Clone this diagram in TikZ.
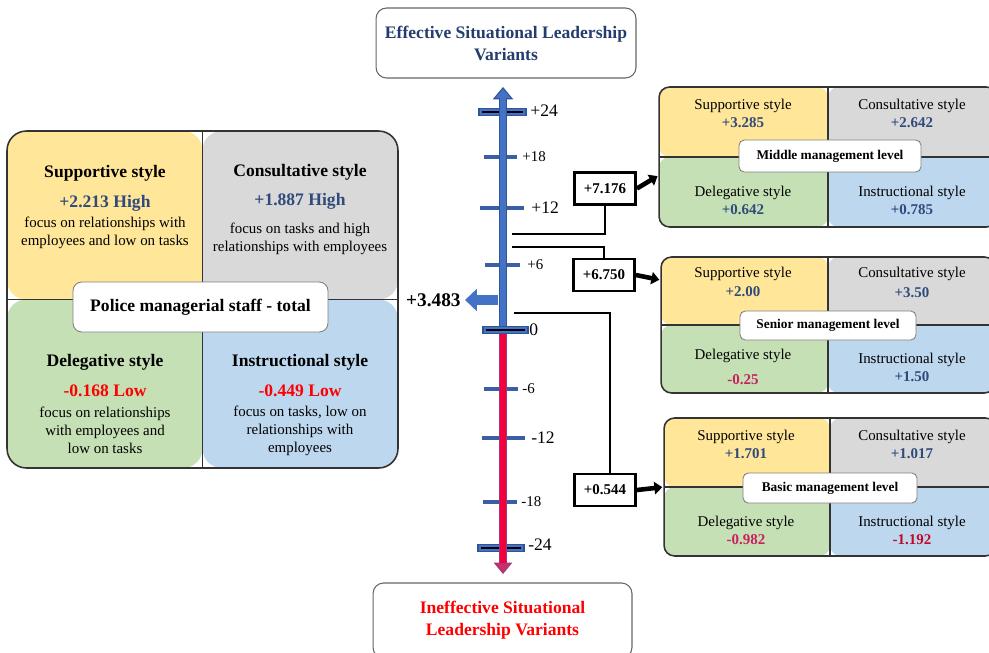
\documentclass[tikz,border=0pt]{standalone}
\usepackage{fontspec}
\setmainfont{Liberation Serif}
\usetikzlibrary{arrows.meta, positioning, calc}

\definecolor{supfill}{HTML}{FFE699}
\definecolor{confill}{HTML}{D9D9D9}
\definecolor{delfill}{HTML}{C5E0B4}
\definecolor{insfill}{HTML}{BDD7EE}
\definecolor{valblue}{HTML}{2F4B7C}
\definecolor{titleblue}{HTML}{243D6E}
\definecolor{valred}{HTML}{FF0000}
\definecolor{valpink}{HTML}{C8205E}
\definecolor{valcrimson}{HTML}{C00A2A}
\definecolor{axisblue}{HTML}{4472C4}
\definecolor{axisdark}{HTML}{2F5597}
\definecolor{tickblue}{HTML}{3B5EA6}
\definecolor{redaxis}{HTML}{F0003C}
\definecolor{redrim}{HTML}{A2357C}
\definecolor{redhead}{HTML}{C8306C}

\begin{document}
\begin{tikzpicture}[x=0.02cm, y=-0.02cm,
  quad panel/.style={rectangle, rounded corners=6pt, draw=black!80, line width=0.9pt,
    inner sep=0pt, outer sep=0pt,
    path picture={
      \fill[supfill] (path picture bounding box.north west) rectangle (path picture bounding box.center);
      \fill[confill] (path picture bounding box.north east) rectangle (path picture bounding box.center);
      \fill[delfill] (path picture bounding box.south west) rectangle (path picture bounding box.center);
      \fill[insfill] (path picture bounding box.south east) rectangle (path picture bounding box.center);
      \draw[black!80, line width=0.6pt] (path picture bounding box.north) -- (path picture bounding box.south)
        (path picture bounding box.west) -- (path picture bounding box.east);
    }},
  level box/.style={rectangle, rounded corners=3pt, draw=black!50, line width=0.5pt, fill=white,
    inner sep=0pt, font=\fontsize{7.6}{9}\selectfont\bfseries},
  title box/.style={rectangle, rounded corners=6pt, draw=black!60, line width=0.6pt, fill=white,
    align=center, inner sep=0pt, font=\fontsize{10}{12.5}\selectfont\bfseries},
  val box/.style={rectangle, draw=black, line width=1.6pt, fill=white, minimum width=1.22cm,
    minimum height=0.64cm, inner sep=0pt, font=\fontsize{8.5}{10}\selectfont\bfseries},
  head text/.style={inner sep=0pt, font=\fontsize{10}{12}\selectfont\bfseries},
  desc text/.style={align=center, inner sep=0pt, font=\fontsize{8.5}{10.2}\selectfont},
  cell text/.style={align=center, inner sep=0pt, font=\fontsize{8.5}{10.2}\selectfont},
  tick label/.style={anchor=west, inner sep=0pt, font=\fontsize{10}{12}\selectfont},
  small label/.style={tick label, font=\fontsize{8.5}{10}\selectfont},
  tick/.style={draw=tickblue, line width=2.6pt},
  big tick/.style={fill=axisblue, draw=axisdark, line width=0.6pt},
  link/.style={draw=black, line width=1.6pt},
  pointer/.style={draw=black, line width=2.6pt, shorten >=1pt, -{Triangle[width=7pt,length=4.5pt]}},
  big arrow/.style={draw=axisblue, line width=5.6pt, shorten >=2.3pt, -{Triangle[width=12.5pt,length=6.8pt]}}]

  \useasboundingbox (0,0) rectangle (989,652);
  \fill[white] (0,0) rectangle (989,652);
  \clip (0,0) rectangle (989,652);

  % titles of the scale
  \node[title box, text=titleblue, minimum width=5.2cm, minimum height=1.4cm] (effTitle) at (506,43)
    {Effective Situational Leadership\\Variants};
  \node[title box, text=valred, minimum width=5.18cm, minimum height=1.5cm] (ineffTitle) at (502.5,620.5)
    {Ineffective Situational\\Leadership Variants};

  % total panel
  \node[quad panel, rounded corners=11pt, minimum width=7.82cm, minimum height=6.74cm] (total) at (202.5,299.5) {};
  \node[level box, rounded corners=5pt, minimum width=5.1cm, minimum height=1cm,
    font=\fontsize{10}{12}\selectfont\bfseries] (totalLab) at (200.5,307) {Police managerial staff - total};
  \node[head text] (supHead) at (105,173) {Supportive style};
  \node[head text, text=valblue] (supVal) at (105,203) {+2.213 High};
  \node[desc text] (supDesc) at (105,233) {focus on relationships with\\employees and low on tasks};
  \node[head text] (conHead) at (300,172) {Consultative style};
  \node[head text, text=valblue] (conVal) at (300,201) {+1.887 High};
  \node[desc text] (conDesc) at (300,239) {focus on tasks and high\\relationships with employees};
  \node[head text] (delHead) at (105,362) {Delegative style};
  \node[head text, text=valred] (delVal) at (105,391) {-0.168 Low};
  \node[desc text] (delDesc) at (105,430.5) {focus on relationships\\with employees and\\low on tasks};
  \node[head text] (insHead) at (300,362) {Instructional style};
  \node[head text, text=valred] (insVal) at (300,391) {-0.449 Low};
  \node[desc text] (insDesc) at (300,430.5) {focus on tasks, low on\\relationships with\\employees};

  % middle management
  \node[quad panel, minimum width=6.76cm, minimum height=2.8cm] (middle) at (828,157) {};
  \node[cell text] (midSup) at (743,113) {Supportive style\\\textcolor{valblue}{\textbf{+3.285}}};
  \node[cell text] (midCon) at (912,113) {Consultative style\\\textcolor{valblue}{\textbf{+2.642}}};
  \node[cell text] (midDel) at (743,200) {Delegative style\\\textcolor{valblue}{\textbf{+0.642}}};
  \node[cell text] (midIns) at (912,200) {Instructional style\\\textcolor{valblue}{\textbf{+0.785}}};
  \node[level box, minimum width=3.64cm, minimum height=0.64cm] (middleLab) at (830,156) {Middle management level};

  % senior management
  \node[quad panel, minimum width=6.68cm, minimum height=2.72cm] (senior) at (828,325) {};
  \node[cell text] (senSup) at (743,282) {Supportive style\\[1pt]\textcolor{valblue}{\textbf{+2.00}}};
  \node[cell text] (senCon) at (912,282.5) {Consultative style\\[1.5pt]\textcolor{valblue}{\textbf{+3.50}}};
  \node[cell text] (senDel) at (743,367) {Delegative style\\[4.5pt]\textcolor{valpink}{\textbf{-0.25}}};
  \node[cell text] (senIns) at (912,367.5) {Instructional style\\\textcolor{valblue}{\textbf{+1.50}}};
  \node[level box, minimum width=3.52cm, minimum height=0.58cm] (seniorLab) at (828,325.5) {Senior management level};

  % basic management
  \node[quad panel, minimum width=6.64cm, minimum height=2.76cm] (basic) at (830,487) {};
  \node[cell text] (basSup) at (746,444.5) {Supportive style\\\textcolor{valblue}{\textbf{+1.701}}};
  \node[cell text] (basCon) at (912,444.5) {Consultative style\\\textcolor{valblue}{\textbf{+1.017}}};
  \node[cell text] (basDel) at (746,530) {Delegative style\\\textcolor{valpink}{\textbf{-0.982}}};
  \node[cell text] (basIns) at (912,530) {Instructional style\\\textcolor{valcrimson}{\textbf{-1.192}}};
  \node[level box, minimum width=3.48cm, minimum height=0.6cm] (basicLab) at (830,488) {Basic management level};

  % level values and links
  \node[val box] (v7176) at (605,188.5) {+7.176};
  \node[val box] (v6750) at (604,275) {+6.750};
  \node[val box] (v0544) at (605,490) {+0.544};
  \coordinate (c1) at (512,234);
  \coordinate (c2) at (512,247);
  \coordinate (c3) at (514,313);
  \draw[link] (c1) -| (v7176.south);
  \draw[link] (c2) -| (v6750.north);
  \draw[link] (c3) -| ([xshift=2.8pt]v0544.north);
  \draw[pointer] (v7176.east) -- ($(middle.north west)!0.63!(middle.south west)$);
  \draw[pointer] (v6750.east) -- ($(senior.north west)!0.17!(senior.south west)$);
  \draw[pointer] (v0544.east) -- (basic.west);

  % total value
  \coordinate (a3483) at (498,300);
  \node[anchor=east, inner sep=0pt, font=\fontsize{11}{13}\selectfont\bfseries] (v3483) at (461,300) {+3.483};
  \draw[big arrow] (a3483) -- (v3483.east);

  % ticks under the shaft
  \filldraw[big tick] (479,108.5) rectangle (526,115.5);
  \draw[black, line width=1.2pt] (482,112) -- (523,112);
  \draw[tick] (484,157) -- (517,157);
  \draw[tick] (480,208) -- (524,208);
  \draw[tick] (485,265) -- (520,265);
  \draw[tick] (484,389) -- (518,389);
  \draw[tick] (482,438) -- (525,438);
  \draw[tick] (483,502) -- (517,502);
  \filldraw[big tick] (478,544.5) rectangle (524,551.5);
  \draw[black, line width=1.2pt] (481,548) -- (521,548);

  % scale shaft
  \coordinate (zero) at (503,330);
  \coordinate (topTip) at (503,87);
  \coordinate (botTip) at (503,574);
  \draw[draw=axisdark, line width=5pt, -{Triangle[width=11.5pt,length=7pt,line width=0.6pt,fill=axisblue]}] (zero) -- (topTip);
  \draw[draw=axisblue, line width=3.4pt, shorten >=6.5pt] (zero) -- (topTip);
  \draw[draw=redrim, line width=5pt, -{Triangle[width=10.5pt,length=6.5pt,line width=0.6pt,fill=redhead]}] (zero) -- (botTip);
  \draw[draw=redaxis, line width=3.4pt, shorten >=6pt] (zero) -- (botTip);
  \filldraw[big tick] (483,326.5) rectangle (528,333.5);
  \draw[black, line width=1.2pt] (486,330) -- (525,330);

  % tick labels
  \node[tick label] (t24) at (530,111) {+24};
  \node[small label] (t18) at (522,157) {+18};
  \node[tick label] (t12) at (531,208) {+12};
  \node[small label] (t6) at (527,265) {+6};
  \node[tick label] (t0) at (529,330) {0};
  \node[small label] (tm6) at (522,389) {-6};
  \node[tick label] (tm12) at (531,438) {-12};
  \node[small label] (tm18) at (521,502) {-18};
  \node[tick label] (tm24) at (528,545) {-24};
\end{tikzpicture}
\end{document}
